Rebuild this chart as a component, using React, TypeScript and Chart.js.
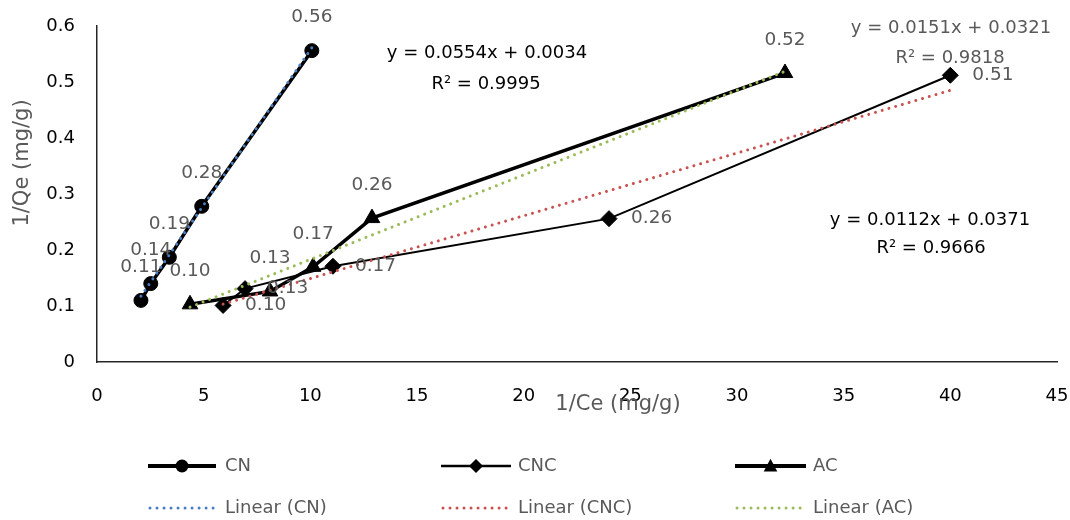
import React, { useEffect, useRef } from "react";
import { Chart, registerables } from "chart.js";

Chart.register(...registerables);

// ---- Data ----
const seriesNames = ["CN", "CNC", "AC"];

const cnX = [2.06, 2.52, 3.39, 4.91, 10.07];
const cnY = [0.11, 0.14, 0.187, 0.278, 0.556];

const cncX = [5.91, 6.94, 11.06, 24.0, 40.0];
const cncY = [0.101, 0.131, 0.171, 0.256, 0.512];

const acX = [4.36, 8.11, 10.13, 12.89, 32.25];
const acY = [0.103, 0.126, 0.17, 0.257, 0.516];

// Linear trendline coefficients (as printed on the chart)
const trendSlopes = [0.0554, 0.0112, 0.0151];
const trendIntercepts = [0.0034, 0.0371, 0.0321];
const trendR2 = ["0.9995", "0.9666", "0.9818"];

const xTicks = [0, 5, 10, 15, 20, 25, 30, 35, 40, 45];
const yTicks = [0, 0.1, 0.2, 0.3, 0.4, 0.5, 0.6];

const FONT = '"DejaVu Sans", sans-serif';
const GRAY = "#595959";
const trendColors = ["#4A7EC4", "#C9514F", "#9BBB59"];

const pts = (xs: number[], ys: number[]) => xs.map((x, i) => ({ x, y: ys[i] }));
const trendPts = (xs: number[], k: number) => {
  const lo = Math.min(...xs);
  const hi = Math.max(...xs);
  return [
    { x: lo, y: trendSlopes[k] * lo + trendIntercepts[k] },
    { x: hi, y: trendSlopes[k] * hi + trendIntercepts[k] },
  ];
};

const eqText = (k: number) =>
  `y = ${trendSlopes[k].toFixed(4)}x + ${trendIntercepts[k].toFixed(4)}`;

function drawMarker(ctx: CanvasRenderingContext2D, style: string, x: number, y: number, r: number) {
  ctx.beginPath();
  if (style === "circle") {
    ctx.arc(x, y, r, 0, Math.PI * 2);
  } else if (style === "rectRot") {
    ctx.moveTo(x, y - r);
    ctx.lineTo(x + r, y);
    ctx.lineTo(x, y + r);
    ctx.lineTo(x - r, y);
    ctx.closePath();
  } else {
    const h = r * 1.5;
    ctx.moveTo(x, y - h * 0.6);
    ctx.lineTo(x + r * 0.85, y + h * 0.45);
    ctx.lineTo(x - r * 0.85, y + h * 0.45);
    ctx.closePath();
  }
  ctx.fill();
}

const overlayPlugin = {
  id: "overlay",
  afterDatasetsDraw(chart: any) {
    const ctx = chart.ctx;
    ctx.save();
    ctx.font = `18.5px ${FONT}`;
    ctx.fillStyle = GRAY;
    ctx.textBaseline = "middle";
    // data labels
    [0, 1, 2].forEach((si) => {
      const meta = chart.getDatasetMeta(si);
      const ds = chart.data.datasets[si];
      meta.data.forEach((el: any, i: number) => {
        const v = ds.data[i].y as number;
        const txt = v.toFixed(2);
        if (si === 1) {
          ctx.textAlign = "left";
          ctx.fillText(txt, el.x + 22, el.y);
        } else {
          ctx.textAlign = "center";
          ctx.fillText(txt, el.x, el.y - 33);
        }
      });
    });
    ctx.restore();
  },
  afterDraw(chart: any) {
    const ctx = chart.ctx;
    ctx.save();
    ctx.textBaseline = "middle";
    ctx.textAlign = "center";
    // equations
    ctx.font = `18px ${FONT}`;
    ctx.fillStyle = "#000";
    ctx.fillText(eqText(0), 487, 53);
    ctx.fillText(`R² = ${trendR2[0]}`, 486, 84);
    ctx.fillText(eqText(1), 930, 220);
    ctx.fillText(`R² = ${trendR2[1]}`, 931, 248);
    ctx.fillStyle = GRAY;
    ctx.fillText(eqText(2), 951, 28);
    ctx.fillText(`R² = ${trendR2[2]}`, 950, 58);

    // axis titles
    ctx.font = `21px ${FONT}`;
    ctx.fillStyle = GRAY;
    ctx.fillText("1/Ce (mg/g)", 618, 405);
    ctx.save();
    ctx.translate(23, 163);
    ctx.rotate(-Math.PI / 2);
    ctx.fillText("1/Qe (mg/g)", 0, 0);
    ctx.restore();

    // legend
    const cols = [
      { x1: 148, x2: 216, tx: 225 },
      { x1: 441, x2: 511, tx: 518 },
      { x1: 735, x2: 806, tx: 813 },
    ];
    const styles = ["circle", "rectRot", "triangle"];
    const widths = [4, 2.5, 4];
    const radii = [6.5, 7, 8];
    const r1 = 466;
    const r2 = 508;
    ctx.font = `18px ${FONT}`;
    ctx.textAlign = "left";
    cols.forEach((c, i) => {
      ctx.strokeStyle = "#000";
      ctx.lineWidth = widths[i];
      ctx.lineCap = "butt";
      ctx.setLineDash([]);
      ctx.beginPath();
      ctx.moveTo(c.x1, r1);
      ctx.lineTo(c.x2, r1);
      ctx.stroke();
      ctx.fillStyle = "#000";
      drawMarker(ctx, styles[i], (c.x1 + c.x2) / 2, r1, radii[i]);
      ctx.fillStyle = GRAY;
      ctx.fillText(seriesNames[i], c.tx, r1);

      ctx.strokeStyle = trendColors[i];
      ctx.lineWidth = 3;
      ctx.lineCap = "round";
      ctx.setLineDash([0.01, 7]);
      ctx.beginPath();
      ctx.moveTo(c.x1 + 2, r2);
      ctx.lineTo(c.x2, r2);
      ctx.stroke();
      ctx.setLineDash([]);
      ctx.fillStyle = GRAY;
      ctx.fillText(`Linear (${seriesNames[i]})`, c.tx, r2);
    });
    ctx.restore();
  },
};

export default function App() {
  const ref = useRef<HTMLCanvasElement | null>(null);

  useEffect(() => {
    if (!ref.current) return;
    const series = [
      { label: "CN", data: pts(cnX, cnY), style: "circle", width: 3.5, radius: 7 },
      { label: "CNC", data: pts(cncX, cncY), style: "rectRot", width: 2, radius: 8 },
      { label: "AC", data: pts(acX, acY), style: "triangle", width: 3.5, radius: 9 },
    ];
    const trendSources = [cnX, cncX, acX];
    const datasets: any[] = series.map((s) => ({
      label: s.label,
      data: s.data,
      showLine: true,
      borderColor: "#000",
      backgroundColor: "#000",
      borderWidth: s.width,
      pointStyle: s.style,
      pointRadius: s.radius,
      pointBorderWidth: 1,
      pointBackgroundColor: "#000",
      pointBorderColor: "#000",
      tension: 0,
      order: 2,
    }));
    trendSources.forEach((xs, k) => {
      datasets.push({
        label: `Linear (${seriesNames[k]})`,
        data: trendPts(xs, k),
        showLine: true,
        borderColor: trendColors[k],
        borderWidth: 3,
        borderDash: [0.01, 7],
        borderCapStyle: "round",
        pointRadius: 0,
        tension: 0,
        order: 1,
      });
    });

    const zeroPad = (scale: any) => {
      scale.paddingLeft = 0;
      scale.paddingRight = 0;
      scale.paddingTop = 0;
      scale.paddingBottom = 0;
    };

    const chart = new Chart(ref.current, {
      type: "scatter",
      data: { datasets },
      options: {
        animation: false,
        responsive: true,
        maintainAspectRatio: false,
        layout: { padding: { top: 26, right: 13, left: 0, bottom: 0 } },
        plugins: {
          legend: { display: false },
          tooltip: { enabled: false },
          title: { display: false },
        },
        scales: {
          x: {
            type: "linear",
            min: xTicks[0],
            max: xTicks[xTicks.length - 1],
            afterBuildTicks: (scale: any) => {
              scale.ticks = xTicks.map((v) => ({ value: v }));
            },
            afterFit: (scale: any) => {
              scale.height = 158;
              zeroPad(scale);
            },
            grid: { display: false, drawTicks: false },
            border: { display: true, color: "#262626", width: 1.5 },
            ticks: {
              color: "#000",
              font: { family: FONT, size: 18 },
              padding: 24,
              maxRotation: 0,
              callback: (v: any) => String(v),
            },
          },
          y: {
            type: "linear",
            min: yTicks[0],
            max: yTicks[yTicks.length - 1],
            afterBuildTicks: (scale: any) => {
              scale.ticks = yTicks.map((v) => ({ value: v }));
            },
            afterFit: (scale: any) => {
              scale.width = 97;
              zeroPad(scale);
            },
            grid: { display: false, drawTicks: false },
            border: { display: true, color: "#262626", width: 1.5 },
            ticks: {
              color: "#000",
              font: { family: FONT, size: 18 },
              padding: 22,
              callback: (v: any) => (Number(v) === 0 ? "0" : Number(v).toFixed(1)),
            },
          },
        },
      },
      plugins: [overlayPlugin],
    });
    return () => chart.destroy();
  }, []);

  return (
    <div style={{ position: "absolute", left: 0, top: 0, width: 1070, height: 520, background: "#fff" }}>
      <canvas ref={ref} />
    </div>
  );
}
